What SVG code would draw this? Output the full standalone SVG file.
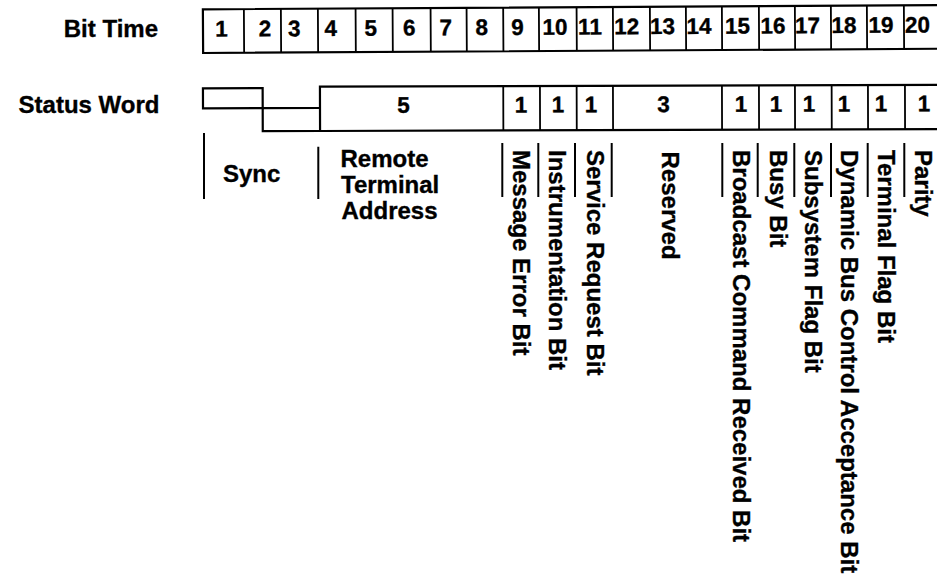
<svg xmlns="http://www.w3.org/2000/svg" width="937" height="579" viewBox="0 0 937 579">
<style>
text{font-family:"Liberation Sans",Arial,Helvetica,sans-serif;font-weight:bold;fill:#000;stroke:#000;stroke-width:0.35}
.lbl{font-size:24px}
.dig{font-size:22.5px;text-anchor:middle}
.box{fill:none;stroke:#000;stroke-width:2.2}
.div{fill:none;stroke:#000;stroke-width:1.8}
.sep{fill:none;stroke:#000;stroke-width:2}
</style>
<rect width="937" height="579" fill="#fff"/>
<g id="row-titles">
<text class="lbl" x="158" y="36.7" text-anchor="end">Bit Time</text>
<text class="lbl" x="159.5" y="113.3" text-anchor="end">Status Word</text>
</g>
<g id="bit-time-row" transform="rotate(-0.33 203 31)">
<path class="box" d="M940 9.3H203V53H940"/>
<path class="div" d="M244 9.3V53M281 9.3V53M318 9.3V53M355.7 9.3V53M392.7 9.3V53M430.7 9.3V53M466.7 9.3V53M503.3 9.3V53M539 9.3V53M576.7 9.3V53M613 9.3V53M650 9.3V53M686 9.3V53M722 9.3V53M759 9.3V53M795 9.3V53M831 9.3V53M867 9.3V53M904 9.3V53"/>
<g class="digits">
<text class="dig" x="221.5" y="36.7">1</text>
<text class="dig" x="265" y="36.7">2</text>
<text class="dig" x="294.2" y="36.7">3</text>
<text class="dig" x="330.8" y="36.7">4</text>
<text class="dig" x="370.8" y="36.7">5</text>
<text class="dig" x="409.2" y="36.7">6</text>
<text class="dig" x="445.8" y="36.7">7</text>
<text class="dig" x="481.8" y="36.7">8</text>
<text class="dig" x="517.5" y="36.7">9</text>
<text class="dig" x="555" y="36.7">10</text>
<text class="dig" x="590" y="36.7">11</text>
<text class="dig" x="626.7" y="36.7">12</text>
<text class="dig" x="662.5" y="36.7">13</text>
<text class="dig" x="699" y="36.7">14</text>
<text class="dig" x="737.5" y="36.7">15</text>
<text class="dig" x="773" y="36.7">16</text>
<text class="dig" x="807.5" y="36.7">17</text>
<text class="dig" x="844" y="36.7">18</text>
<text class="dig" x="881" y="36.7">19</text>
<text class="dig" x="917.5" y="36.7">20</text>
</g>
</g>
<g id="status-word-row" transform="rotate(-0.17 320 108)">
<g id="sync-field">
<path class="box" d="M203 88H262.7V108H203Z"/>
<path class="box" d="M262.7 108H320M262.7 108V131H320"/>
</g>
<path class="box" d="M940 86.7H320V131H940"/>
<path class="div" d="M503.3 86.7V131M540 86.7V131M576.7 86.7V131M613 86.7V131M722 86.7V131M759 86.7V131M795 86.7V131M831.7 86.7V131M868 86.7V131M905 86.7V131"/>
<g class="digits">
<text class="dig" x="403.5" y="113">5</text>
<text class="dig" x="521" y="113">1</text>
<text class="dig" x="558" y="113">1</text>
<text class="dig" x="591" y="113">1</text>
<text class="dig" x="663.5" y="113">3</text>
<text class="dig" x="741" y="113">1</text>
<text class="dig" x="776" y="113">1</text>
<text class="dig" x="809" y="113">1</text>
<text class="dig" x="844" y="113">1</text>
<text class="dig" x="881" y="113">1</text>
<text class="dig" x="924" y="113">1</text>
</g>
</g>
<g id="connectors">
<path class="sep" d="M204 133V199M318.3 146.7V199M502.3 143V197M538.3 143V197M575 143V197M611.7 143V197M722.3 143V197M757.7 143V197M794.3 143V197M831 143V197M867.7 143V197M904.3 143V197"/>
</g>
<g id="label-sync"><text class="lbl" x="223" y="181.7">Sync</text></g>
<g id="label-rta">
<text class="lbl" x="340.5" y="166.7">Remote</text>
<text class="lbl" x="341" y="193">Terminal</text>
<text class="lbl" x="341.5" y="219">Address</text>
</g>
<g id="label-message-error"><text class="lbl" transform="translate(513 150) rotate(90)">Message Error Bit</text></g>
<g id="label-instrumentation"><text class="lbl" transform="translate(549 150) rotate(90)">Instrumentation Bit</text></g>
<g id="label-service-request"><text class="lbl" transform="translate(586.5 150) rotate(90)">Service Request Bit</text></g>
<g id="label-reserved"><text class="lbl" transform="translate(662 151.5) rotate(90)">Reserved</text></g>
<g id="label-broadcast"><text class="lbl" transform="translate(733 150) rotate(90)">Broadcast Command Received Bit</text></g>
<g id="label-busy"><text class="lbl" transform="translate(769.5 150) rotate(90)">Busy Bit</text></g>
<g id="label-subsystem"><text class="lbl" transform="translate(805 150) rotate(90)">Subsystem Flag Bit</text></g>
<g id="label-dynamic-bus"><text class="lbl" transform="translate(841 150) rotate(90)">Dynamic Bus Control Acceptance Bit</text></g>
<g id="label-terminal-flag"><text class="lbl" transform="translate(878 150) rotate(90)">Terminal Flag Bit</text></g>
<g id="label-parity"><text class="lbl" transform="translate(915 150) rotate(90)">Parity</text></g>
</svg>
